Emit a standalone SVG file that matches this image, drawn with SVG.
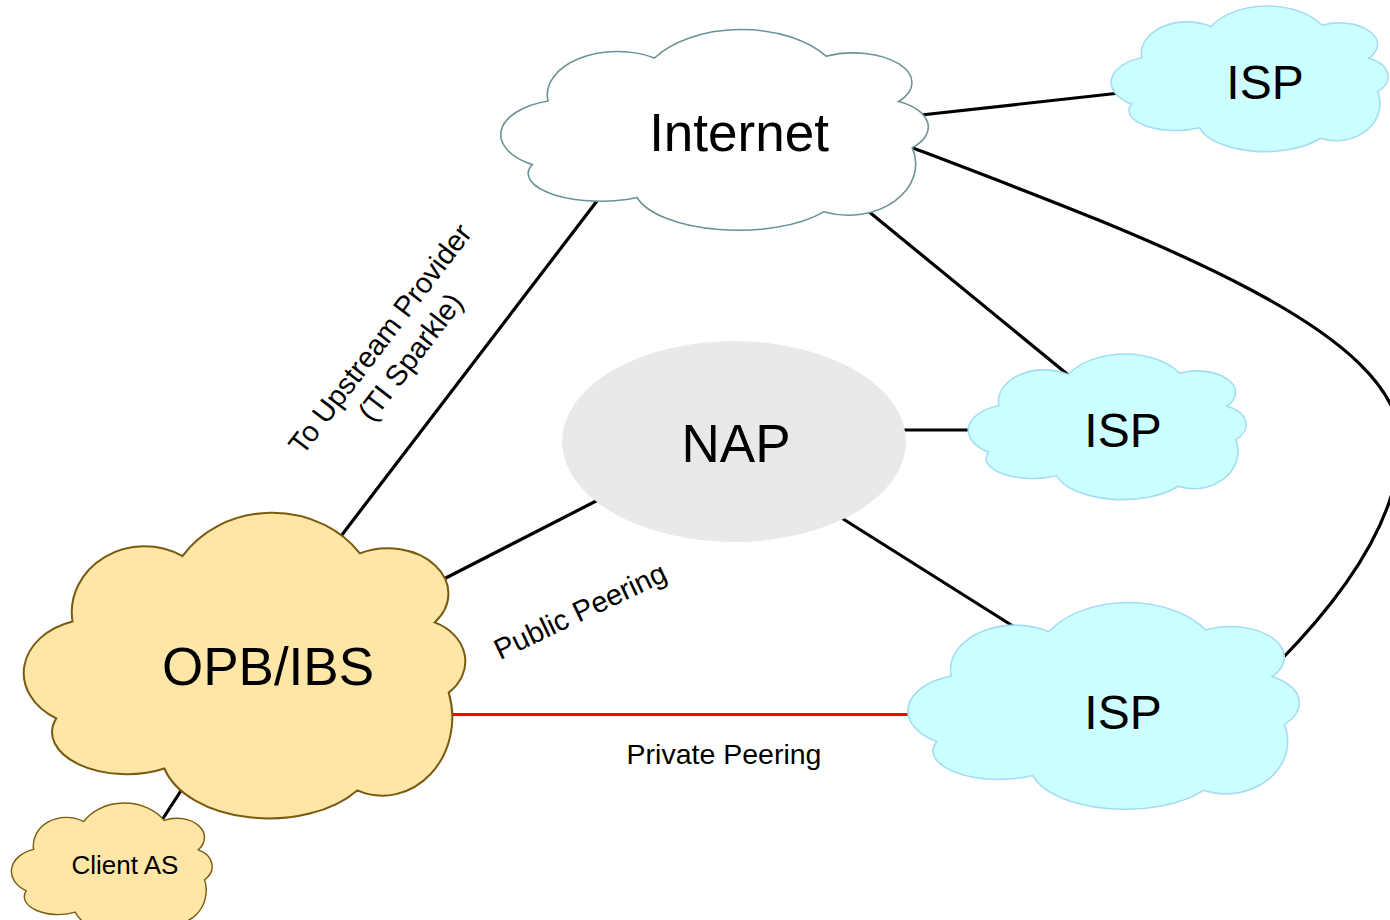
<svg xmlns="http://www.w3.org/2000/svg" width="1390" height="920" viewBox="0 0 1390 920">
<style>
  .conn { fill: none; stroke: #000; stroke-width: 3.2; }
  .red { stroke: #ff0000; }
  .inet { fill: #ffffff; stroke: #6b9396; stroke-width: 1.6; }
  .isp { fill: #ccffff; stroke: #a4dcf4; stroke-width: 1.6; }
  .opb { fill: #fde6a6; stroke: #7a5a10; stroke-width: 2; }
  .client { fill: #fde6a6; stroke: #7a5a10; stroke-width: 1.4; }
  .nap { fill: #e9e9e9; }
  .t { font-family: "Liberation Sans", Arial, sans-serif; fill: #000; text-anchor: middle; }
</style>
<defs>
  <symbol id="cloud" viewBox="0 0 1000 1000" preserveAspectRatio="none" overflow="visible">
    <path vector-effect="non-scaling-stroke" d="M108,355 A165,220 0 0 1 358,137 A240,306 0 0 1 761,128 A138,151 0 0 1 931,358 A120,143 0 0 1 963,592 A159,261 0 0 1 755,918 A245,220 0 0 1 317,845 A170,140 0 0 1 71,678 A160,180 0 0 1 108,355 Z"/>
  </symbol>
</defs>
<rect width="1390" height="920" fill="#ffffff"/>
<g id="connectors">
  <line class="conn" x1="912" y1="116" x2="1120" y2="93"/>
  <path class="conn" d="M905,145 C1150,238 1400,330 1400,442 C1400,520 1340,600 1278,663"/>
  <line class="conn" x1="862" y1="206" x2="1072" y2="378"/>
  <line class="conn" x1="600" y1="197" x2="338" y2="540"/>
  <line class="conn" x1="900" y1="430" x2="975" y2="430"/>
  <line class="conn" x1="840" y1="517" x2="1016" y2="628"/>
  <line class="conn" x1="600" y1="499" x2="436" y2="583"/>
  <line class="conn red" x1="448" y1="714.5" x2="915" y2="714.5"/>
  <line class="conn" x1="184" y1="786" x2="162" y2="820"/>
</g>
<g id="node-internet">
  <use href="#cloud" class="inet" x="502" y="31" width="426" height="197"/>
  <text class="t" x="739" y="151" font-size="53">Internet</text>
</g>
<g id="node-isp-top">
  <use href="#cloud" class="isp" x="1112" y="7" width="276" height="143"/>
  <text class="t" x="1265" y="99" font-size="48">ISP</text>
</g>
<g id="node-nap">
  <ellipse class="nap" cx="734" cy="441.5" rx="172" ry="100.5"/>
  <text class="t" x="736" y="462" font-size="53">NAP</text>
</g>
<g id="node-isp-mid">
  <use href="#cloud" class="isp" x="969" y="355" width="277" height="143"/>
  <text class="t" x="1123" y="447" font-size="48">ISP</text>
</g>
<g id="node-isp-bottom">
  <use href="#cloud" class="isp" x="909" y="604" width="390" height="203"/>
  <text class="t" x="1123" y="729" font-size="48">ISP</text>
</g>
<g id="node-opb">
  <use href="#cloud" class="opb" x="25" y="515" width="440" height="300"/>
  <text class="t" x="268" y="685" font-size="53">OPB/IBS</text>
</g>
<g id="node-client">
  <use href="#cloud" class="client" x="12" y="804" width="200" height="128"/>
  <text class="t" x="125" y="874" font-size="26">Client AS</text>
</g>
<g id="labels">
  <text class="t" font-size="29" transform="translate(396,346) rotate(-52.6)">
    <tspan x="0" y="-7">To Upstream Provider</tspan>
    <tspan x="0" y="28">(TI Sparkle)</tspan>
  </text>
  <text class="t" font-size="29" transform="translate(580,611) rotate(-25.5)" y="10">Public Peering</text>
  <text class="t" x="724" y="764" font-size="28.5">Private Peering</text>
</g>
</svg>
